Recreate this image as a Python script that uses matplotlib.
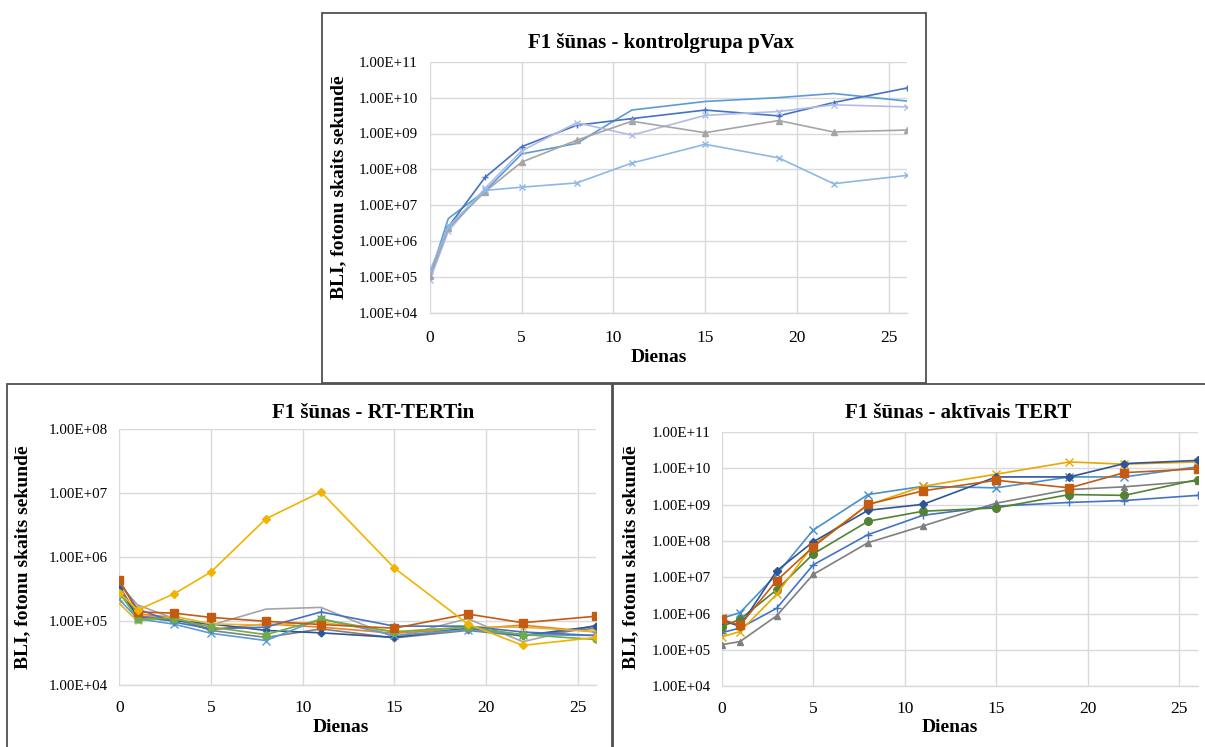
import math
import matplotlib
matplotlib.use("Agg")
import matplotlib.pyplot as plt
from matplotlib.patches import Rectangle
from matplotlib.ticker import FixedLocator, FuncFormatter, NullLocator

plt.rcParams['font.family'] = ['Liberation Serif', 'DejaVu Serif']

days = [0, 1, 3, 5, 8, 11, 15, 19, 22, 26]
xticks = [0, 5, 10, 15, 20, 25]

# ---- Top: kontrolgrupa pVax ----
pvax_title = "F1 šūnas - kontrolgrupa pVax"
pvax_a = [1.0e5, 2.5e6, 6.0e7, 4.3e8, 1.7e9, 2.6e9, 4.5e9, 3.1e9, 7.3e9, 1.85e10]
pvax_b = [1.1e5, 4.3e6, 2.5e7, 2.7e8, 5.3e8, 4.5e9, 7.8e9, 1.0e10, 1.3e10, 8.0e9]
pvax_c = [8.5e4, 1.9e6, 3.0e7, 3.3e8, 2.0e9, 9.0e8, 3.2e9, 4.1e9, 6.3e9, 5.5e9]
pvax_d = [1.05e5, 2.3e6, 2.4e7, 1.6e8, 6.5e8, 2.2e9, 1.05e9, 2.3e9, 1.1e9, 1.25e9]
pvax_e = [1.5e5, 2.6e6, 2.6e7, 3.2e7, 4.2e7, 1.5e8, 5.0e8, 2.1e8, 4.0e7, 6.8e7]

# ---- Bottom left: RT-TERTin ----
rt_title = "F1 šūnas - RT-TERTin"
rt_blue_plus = [4.2e5, 1.55e5, 9.7e4, 7.6e4, 8.1e4, 1.4e5, 8.4e4, 8.4e4, 6.8e4, 6.0e4]
rt_orange = [3.2e5, 1.3e5, 1.15e5, 7.4e4, 9.1e4, 8.1e4, 6.5e4, 7.6e4, 8.7e4, 6.8e4]
rt_gray = [3.8e5, 1.8e5, 1.1e5, 8.7e4, 1.55e5, 1.65e5, 5.6e4, 1.1e5, 4.8e4, 8.7e4]
rt_yellow_x = [1.9e5, 1.0e5, 1.2e5, 9.1e4, 8.7e4, 9.7e4, 6.9e4, 8.1e4, 8.1e4, 6.9e4]
rt_lightblue = [2.2e5, 1.1e5, 9.0e4, 6.5e4, 5.0e4, 1.1e5, 6.0e4, 7.4e4, 6.2e4, 6.0e4]
rt_green = [2.8e5, 1.1e5, 1.1e5, 8.1e4, 6.2e4, 1.07e5, 6.8e4, 8.1e4, 6.2e4, 5.2e4]
rt_darkblue = [3.2e5, 1.15e5, 1.02e5, 9.1e4, 7.2e4, 6.6e4, 5.6e4, 7.8e4, 6.0e4, 8.4e4]
rt_darkorange = [4.4e5, 1.4e5, 1.34e5, 1.15e5, 1.0e5, 8.9e4, 7.8e4, 1.3e5, 9.5e4, 1.2e5]
rt_darkgray = [3.6e5, 1.2e5, 1.1e5, 7.2e4, 5.6e4, 7.6e4, 5.5e4, 7.2e4, 5.9e4, 7.8e4]
rt_gold = [2.8e5, 1.5e5, 2.7e5, 5.9e5, 4.0e6, 1.05e7, 6.8e5, 9.1e4, 4.2e4, 5.6e4]

# ---- Bottom right: aktīvais TERT ----
tert_title = "F1 šūnas - aktīvais TERT"
tert_diamond = [6.5e5, 4.5e5, 1.5e7, 9.5e7, 7.0e8, 1.02e9, 5.8e9, 5.8e9, 1.35e10, 1.65e10]
tert_square = [7.0e5, 4.8e5, 8.1e6, 6.9e7, 1.02e9, 2.4e9, 4.7e9, 2.9e9, 7.6e9, 9.7e9]
tert_triangle = [1.4e5, 1.7e5, 8.7e5, 1.2e7, 9.0e7, 2.6e8, 1.1e9, 2.6e9, 3.1e9, 4.5e9]
tert_x = [2.3e5, 3.2e5, 3.4e6, 7.8e7, 9.8e8, 3.2e9, 6.9e9, 1.5e10, 1.3e10, 1.5e10]
tert_asterisk = [7.4e5, 1.07e6, 1.2e7, 2.0e8, 1.9e9, 3.2e9, 2.9e9, 5.8e9, 5.8e9, 1.1e10]
tert_circle = [4.4e5, 7.0e5, 4.5e6, 4.4e7, 3.5e8, 6.6e8, 8.1e8, 1.9e9, 1.8e9, 4.9e9]
tert_plus = [3.0e5, 4.0e5, 1.4e6, 2.2e7, 1.5e8, 5.1e8, 9.1e8, 1.15e9, 1.3e9, 1.8e9]

ylabel = "BLI, fotonu skaits sekundē"
xlabel = "Dienas"

W, H = 1205, 747
fig = plt.figure(figsize=(W / 100, H / 100), dpi=100)


def px_axes(x0, x1, ytop, ybot):
    return fig.add_axes([x0 / W, 1 - ybot / H, (x1 - x0) / W, (ybot - ytop) / H])


def style(ax, emin, emax, xpad, ypad):
    ax.set_yscale('log')
    ax.set_xlim(0, 26)
    ax.set_ylim(10.0 ** emin, 10.0 ** emax)
    ax.yaxis.set_major_locator(FixedLocator([10.0 ** e for e in range(emin, emax + 1)]))
    ax.yaxis.set_minor_locator(NullLocator())
    ax.yaxis.set_major_formatter(FuncFormatter(lambda v, p: "1.00E+%02d" % round(math.log10(v))))
    ax.set_xticks(xticks)
    ax.grid(True, color='#D9D9D9', linewidth=1.0)
    ax.set_axisbelow(True)
    for s in ['top', 'right', 'left']:
        ax.spines[s].set_visible(False)
    ax.spines['bottom'].set_color('#D9D9D9')
    ax.spines['bottom'].set_linewidth(1.0)
    ax.tick_params(length=0, colors='black')
    ax.tick_params(axis='x', labelsize=12.5, pad=xpad)
    ax.tick_params(axis='y', labelsize=10.8, pad=ypad)


lw = 1.2
ms = 5
title_fs = 15
lab_fs = 14

# Boxes
box_kw = dict(transform=fig.transFigure, fill=False, edgecolor='#505050', linewidth=1.3)
fig.patches.append(Rectangle((322 / W, 1 - 383 / H), (926 - 322) / W, (383 - 13) / H, **box_kw))
fig.patches.append(Rectangle((7 / W, 1 - 750 / H), (612 - 7) / W, (750 - 384) / H, **box_kw))
fig.patches.append(Rectangle((613 / W, 1 - 750 / H), (1210 - 613) / W, (750 - 384) / H, **box_kw))

# Top chart
ax1 = px_axes(430, 907, 61.7, 313)
style(ax1, 4, 11, xpad=12, ypad=9)
ax1.plot(days, pvax_b, color='#5B9BD5', lw=lw)
ax1.plot(days, pvax_a, color='#4472C4', lw=lw, marker='+', ms=ms)
ax1.plot(days, pvax_c, color='#AFBCE6', lw=lw, marker='x', ms=ms)
ax1.plot(days, pvax_d, color='#A5A5A5', lw=lw, marker='^', ms=ms - 1)
ax1.plot(days, pvax_e, color='#8DB8E6', lw=lw, marker='x', ms=ms)
fig.text(661 / W, 1 - 43 / H, pvax_title, ha='center', va='center', fontsize=title_fs, fontweight='bold')
fig.text(339 / W, 1 - 187 / H, ylabel, ha='center', va='center', rotation=90, fontsize=lab_fs, fontweight='bold')
fig.text(659 / W, 1 - 358 / H, xlabel, ha='center', va='center', fontsize=lab_fs, fontweight='bold')

# Bottom left
ax2 = px_axes(119.3, 596, 429.3, 685.3)
style(ax2, 4, 8, xpad=10.5, ypad=8)
ax2.plot(days, rt_gray, color='#A5A5A5', lw=lw)
ax2.plot(days, rt_orange, color='#ED7D31', lw=lw)
ax2.plot(days, rt_darkgray, color='#7F7F7F', lw=lw, marker='D', ms=ms - 1.5)
ax2.plot(days, rt_darkblue, color='#2F5597', lw=lw, marker='D', ms=ms - 1.5)
ax2.plot(days, rt_yellow_x, color='#E8B22A', lw=lw, marker='x', ms=ms)
ax2.plot(days, rt_lightblue, color='#5B9BD5', lw=lw, marker='x', ms=ms + 1)
ax2.plot(days, rt_blue_plus, color='#4472C4', lw=lw, marker='+', ms=ms + 1)
ax2.plot(days, rt_green, color='#70AD47', lw=lw, marker='o', ms=ms)
ax2.plot(days, rt_darkorange, color='#C55A11', lw=lw, marker='s', ms=ms + 0.5)
ax2.plot(days, rt_gold, color='#F0B400', lw=lw, marker='D', ms=ms - 1)
fig.text(373 / W, 1 - 413 / H, rt_title, ha='center', va='center', fontsize=title_fs, fontweight='bold')
fig.text(23 / W, 1 - 557 / H, ylabel, ha='center', va='center', rotation=90, fontsize=lab_fs, fontweight='bold')
fig.text(341 / W, 1 - 728 / H, xlabel, ha='center', va='center', fontsize=lab_fs, fontweight='bold')

# Bottom right
ax3 = px_axes(721.7, 1197.5, 432, 686.3)
style(ax3, 4, 11, xpad=10.5, ypad=8)
ax3.plot(days, tert_triangle, color='#7F7F7F', lw=lw, marker='^', ms=ms)
ax3.plot(days, tert_plus, color='#4472C4', lw=lw, marker='+', ms=ms + 1)
ax3.plot(days, tert_circle, color='#548235', lw=lw, marker='o', ms=ms + 0.5)
ax3.plot(days, tert_asterisk, color='#4A90C8', lw=lw, marker='x', ms=ms + 1)
ax3.plot(days, tert_x, color='#E8A800', lw=lw, marker='x', ms=ms + 1)
ax3.plot(days, tert_diamond, color='#2F5597', lw=lw, marker='D', ms=ms - 1)
ax3.plot(days, tert_square, color='#C55A11', lw=lw, marker='s', ms=ms + 1)
fig.text(958 / W, 1 - 413 / H, tert_title, ha='center', va='center', fontsize=title_fs, fontweight='bold')
fig.text(631 / W, 1 - 557 / H, ylabel, ha='center', va='center', rotation=90, fontsize=lab_fs, fontweight='bold')
fig.text(950 / W, 1 - 728 / H, xlabel, ha='center', va='center', fontsize=lab_fs, fontweight='bold')

fig.savefig("out.png", dpi=100, facecolor='white')
